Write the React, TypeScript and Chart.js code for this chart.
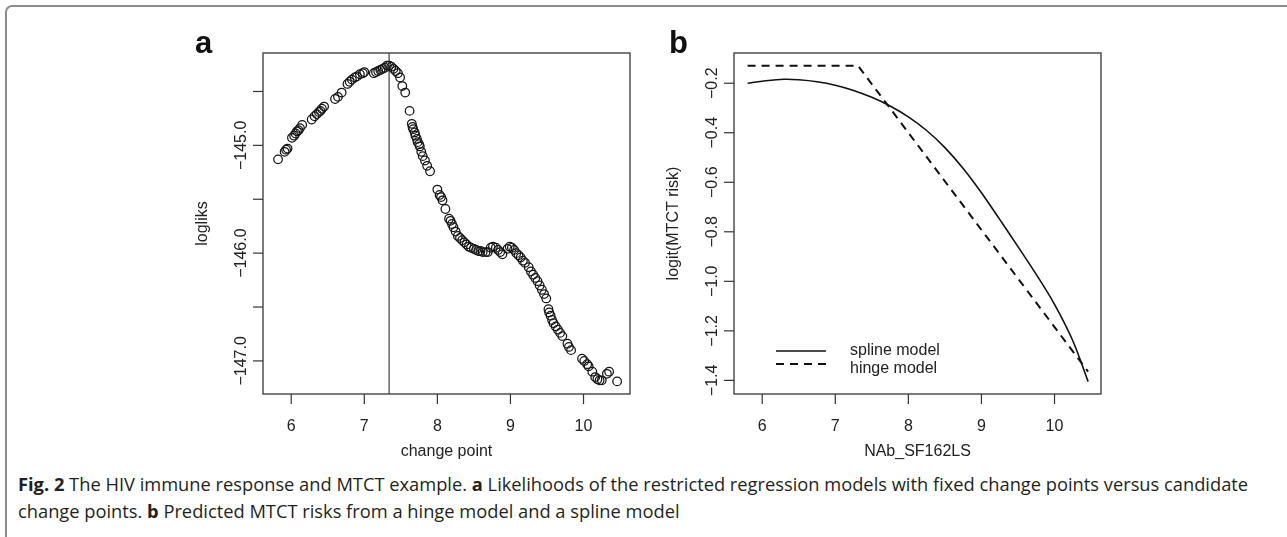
import React, { useEffect, useRef } from "react";
import { Chart, registerables } from "chart.js";

Chart.register(...registerables);

// ---------- Panel a: log-likelihood vs candidate change point ----------
const candidatePoints = [
  5.82, 5.91, 5.93, 5.95,
  6.01, 6.04, 6.06, 6.08, 6.10, 6.12, 6.15,
  6.28,
  6.32, 6.35, 6.38, 6.40, 6.42, 6.45,
  6.60, 6.64, 6.69,
  6.77, 6.80, 6.83, 6.87, 6.90, 6.94, 6.98, 7.00,
  7.13, 7.16, 7.19, 7.22, 7.25, 7.28, 7.31, 7.34, 7.37, 7.40, 7.43, 7.46, 7.49,
  7.52, 7.56, 7.62,
  7.65, 7.66, 7.67, 7.69, 7.70, 7.72, 7.73, 7.75, 7.76, 7.78, 7.80, 7.83, 7.86, 7.90,
  8.00, 8.03, 8.05, 8.07, 8.11, 8.16, 8.18, 8.20, 8.22, 8.25, 8.28, 8.31, 8.34, 8.37, 8.40,
  8.43, 8.46, 8.50, 8.53, 8.56, 8.59, 8.62, 8.66, 8.69, 8.73, 8.76, 8.80, 8.83, 8.86, 8.89,
  8.96, 8.99, 9.02, 9.05, 9.08, 9.11, 9.14, 9.17, 9.20,
  9.25, 9.28, 9.31, 9.34, 9.37, 9.40, 9.43, 9.46, 9.49,
  9.52, 9.53, 9.55, 9.57, 9.59, 9.62, 9.65, 9.68, 9.71,
  9.78, 9.80, 9.83,
  9.98, 10.01, 10.05, 10.07, 10.12, 10.16, 10.19, 10.22, 10.25, 10.32, 10.35, 10.46,
];
const logliks = [
  -145.13, -145.06, -145.04, -145.03,
  -144.93, -144.91, -144.89, -144.87, -144.86, -144.84, -144.81,
  -144.76,
  -144.73, -144.71, -144.69, -144.68, -144.66, -144.64,
  -144.57, -144.55, -144.51,
  -144.43, -144.41, -144.39, -144.37, -144.36, -144.34, -144.33, -144.32,
  -144.33, -144.32, -144.31, -144.30, -144.29, -144.28, -144.26, -144.26, -144.27, -144.29, -144.31, -144.33, -144.37,
  -144.45, -144.51, -144.68,
  -144.80, -144.83, -144.85, -144.88, -144.91, -144.94, -144.97, -144.99, -145.01, -145.06, -145.10, -145.14, -145.19, -145.24,
  -145.41, -145.46, -145.48, -145.51, -145.59, -145.68, -145.70, -145.73, -145.76, -145.80, -145.84, -145.86, -145.88, -145.90, -145.92,
  -145.94, -145.95, -145.96, -145.97, -145.98, -145.98, -145.99, -145.99, -145.99, -145.95, -145.94, -145.95, -145.97, -145.99, -146.01,
  -145.96, -145.94, -145.95, -145.97, -146.00, -146.02, -146.04, -146.07, -146.09,
  -146.13, -146.17, -146.20, -146.23, -146.26, -146.30, -146.34, -146.38, -146.42,
  -146.52, -146.55, -146.58, -146.62, -146.65, -146.68, -146.71, -146.74, -146.77,
  -146.84, -146.87, -146.90,
  -146.98, -147.00, -147.03, -147.05, -147.10, -147.15, -147.17, -147.18, -147.18, -147.12, -147.10, -147.19,
];
const bestChangePoint = 7.34;
const xTicks = [6, 7, 8, 9, 10];
const xRange = [5.614, 10.636];
const leftYRange = [-147.307, -144.143];
const leftYTicks = [-144.5, -145.0, -145.5, -146.0, -146.5, -147.0];
const leftYTickLabels = ["", "\u2212145.0", "", "\u2212146.0", "", "\u2212147.0"];

// ---------- Panel b: predicted logit risk ----------
const nabValues = [5.8, 6.0, 6.3, 6.5, 6.75, 7.0, 7.25, 7.5, 7.75, 8.0, 8.25, 8.5, 8.75, 9.0, 9.25, 9.5, 9.75, 10.0, 10.25, 10.46];
const splineRisk = [-0.200, -0.192, -0.184, -0.186, -0.194, -0.208, -0.229, -0.257, -0.292, -0.336, -0.391, -0.460, -0.544, -0.642, -0.750, -0.860, -0.972, -1.093, -1.240, -1.405];
const hingeNab = [5.8, 7.31, 10.46];
const hingeRisk = [-0.129, -0.129, -1.365];
const rightYRange = [-1.455, -0.078];
const rightYTicks = [-0.2, -0.4, -0.6, -0.8, -1.0, -1.2, -1.4];
const rightYTickLabels = ["\u22120.2", "\u22120.4", "\u22120.6", "\u22120.8", "\u22121.0", "\u22121.2", "\u22121.4"];
const legendLabels = ["spline model", "hinge model"];

const AXIS_FONT = '16px "Liberation Sans", Arial, Helvetica, sans-serif';
const INK = "#222222";

type AxesOpts = {
  letter: string;
  letterX: number;
  xTitle: string;
  yTitle: string;
  yTicks: number[];
  yLabels: string[];
  legend?: boolean;
};

function makeAxesPlugin(o: AxesOpts) {
  return {
    id: "rAxes",
    afterDraw(chart: any) {
      const ctx = chart.ctx as CanvasRenderingContext2D;
      const { left, right, top, bottom } = chart.chartArea;
      const xs = chart.scales.x;
      const ys = chart.scales.y;
      ctx.save();
      // box
      ctx.strokeStyle = "#444444";
      ctx.lineWidth = 1.4;
      ctx.strokeRect(left, top, right - left, bottom - top);
      ctx.strokeStyle = "#333333";
      ctx.lineWidth = 1.2;
      ctx.fillStyle = INK;
      ctx.font = AXIS_FONT;
      // x ticks
      ctx.textAlign = "center";
      ctx.textBaseline = "middle";
      for (const v of xTicks) {
        const px = xs.getPixelForValue(v);
        ctx.beginPath();
        ctx.moveTo(px, bottom);
        ctx.lineTo(px, bottom + 10);
        ctx.stroke();
        ctx.fillText(String(v), px, bottom + 33);
      }
      // y ticks
      o.yTicks.forEach((v, i) => {
        const py = ys.getPixelForValue(v);
        ctx.beginPath();
        ctx.moveTo(left - 10, py);
        ctx.lineTo(left, py);
        ctx.stroke();
        const lab = o.yLabels[i];
        if (lab) {
          ctx.save();
          ctx.translate(left - 21, py);
          ctx.rotate(-Math.PI / 2);
          ctx.fillText(lab, 0, 0);
          ctx.restore();
        }
      });
      // titles
      ctx.fillText(o.xTitle, (left + right) / 2, bottom + 58);
      ctx.save();
      ctx.translate(left - 60, (top + bottom) / 2);
      ctx.rotate(-Math.PI / 2);
      ctx.fillText(o.yTitle, 0, 0);
      ctx.restore();
      // panel letter
      ctx.font = 'bold 31px "Liberation Sans", Arial, Helvetica, sans-serif';
      ctx.textAlign = "left";
      ctx.textBaseline = "alphabetic";
      ctx.fillStyle = "#111111";
      ctx.fillText(o.letter, o.letterX, 53);
      // legend
      if (o.legend) {
        const lx0 = left + 42;
        const lx1 = left + 92;
        ctx.strokeStyle = "#111111";
        ctx.lineWidth = 1.6;
        ctx.setLineDash([]);
        ctx.beginPath();
        ctx.moveTo(lx0, bottom - 43);
        ctx.lineTo(lx1, bottom - 43);
        ctx.stroke();
        ctx.lineWidth = 2;
        ctx.setLineDash([8, 6]);
        ctx.beginPath();
        ctx.moveTo(lx0, bottom - 30);
        ctx.lineTo(lx1, bottom - 30);
        ctx.stroke();
        ctx.setLineDash([]);
        ctx.font = AXIS_FONT;
        ctx.fillStyle = INK;
        ctx.textBaseline = "middle";
        ctx.fillText(legendLabels[0], left + 116, bottom - 43);
        ctx.fillText(legendLabels[1], left + 116, bottom - 25);
      }
      ctx.restore();
    },
  };
}

function ChartCanvas({ make, left, width }: { make: () => any; left: number; width: number }) {
  const ref = useRef<HTMLCanvasElement | null>(null);
  useEffect(() => {
    if (!ref.current) return;
    const chart = new Chart(ref.current, make());
    return () => chart.destroy();
  }, []);
  return (
    <canvas
      ref={ref}
      width={width}
      height={470}
      style={{ position: "absolute", left, top: 0, width, height: 470 }}
    />
  );
}

function leftConfig() {
  return {
    type: "scatter",
    data: {
      datasets: [
        {
          data: candidatePoints.map((x, i) => ({ x, y: logliks[i] })),
          pointStyle: "circle",
          pointRadius: 4.3,
          pointBorderWidth: 1.25,
          pointBorderColor: "#151515",
          pointBackgroundColor: "rgba(0,0,0,0)",
          showLine: false,
        },
        {
          data: [
            { x: bestChangePoint, y: leftYRange[0] },
            { x: bestChangePoint, y: leftYRange[1] },
          ],
          showLine: true,
          pointRadius: 0,
          borderColor: "#666666",
          borderWidth: 1.5,
        },
      ],
    },
    options: {
      responsive: false,
      animation: false,
      layout: { padding: { left: 113, right: 20, top: 53, bottom: 76 } },
      plugins: { legend: { display: false }, tooltip: { enabled: false } },
      scales: {
        x: { type: "linear", min: xRange[0], max: xRange[1], display: false },
        y: { type: "linear", min: leftYRange[0], max: leftYRange[1], display: false },
      },
    },
    plugins: [
      makeAxesPlugin({
        letter: "a",
        letterX: 45,
        xTitle: "change point",
        yTitle: "logliks",
        yTicks: leftYTicks,
        yLabels: leftYTickLabels,
      }),
    ],
  };
}

function rightConfig() {
  return {
    type: "scatter",
    data: {
      datasets: [
        {
          data: nabValues.map((x, i) => ({ x, y: splineRisk[i] })),
          showLine: true,
          pointRadius: 0,
          borderColor: "#111111",
          borderWidth: 1.6,
          tension: 0.35,
        },
        {
          data: hingeNab.map((x, i) => ({ x, y: hingeRisk[i] })),
          showLine: true,
          pointRadius: 0,
          borderColor: "#111111",
          borderWidth: 2,
          borderDash: [8, 6],
        },
      ],
    },
    options: {
      responsive: false,
      animation: false,
      layout: { padding: { left: 104, right: 19, top: 53, bottom: 76 } },
      plugins: { legend: { display: false }, tooltip: { enabled: false } },
      scales: {
        x: { type: "linear", min: xRange[0], max: xRange[1], display: false },
        y: { type: "linear", min: rightYRange[0], max: rightYRange[1], display: false },
      },
    },
    plugins: [
      makeAxesPlugin({
        letter: "b",
        letterX: 39,
        xTitle: "NAb_SF162LS",
        yTitle: "logit(MTCT risk)",
        yTicks: rightYTicks,
        yLabels: rightYTickLabels,
        legend: true,
      }),
    ],
  };
}

export default function App() {
  return (
    <div
      style={{
        position: "absolute",
        left: 0,
        top: 0,
        width: 1287,
        height: 537,
        background: "#ffffff",
        overflow: "hidden",
      }}
    >
      <div
        style={{
          position: "absolute",
          left: 5,
          top: 5,
          width: 1290,
          height: 540,
          borderTop: "2px solid #8c8c8c",
          borderLeft: "2px solid #8c8c8c",
          borderTopLeftRadius: 7,
        }}
      />
      <ChartCanvas make={leftConfig} left={150} width={500} />
      <ChartCanvas make={rightConfig} left={630} width={490} />
      <div
        style={{
          position: "absolute",
          left: 18,
          top: 470,
          fontFamily: '"Open Sans", "Noto Sans", sans-serif',
          fontSize: 18.3,
          lineHeight: "27px",
          color: "#231f20",
          whiteSpace: "nowrap",
        }}
      >
        <b>Fig. 2</b> The HIV immune response and MTCT example. <b>a</b> Likelihoods of the restricted regression
        models with fixed change points versus candidate
        <br />
        change points. <b>b</b> Predicted MTCT risks from a hinge model and a spline model
      </div>
    </div>
  );
}
